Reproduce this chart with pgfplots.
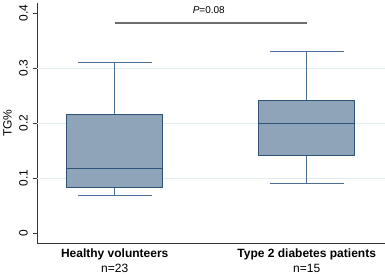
\documentclass[border=0pt]{standalone}
\usepackage{pgfplots}
\pgfplotsset{compat=1.18}
\usepackage{fontspec}
\setmainfont{Liberation Sans}
\definecolor{boxfill}{HTML}{8FA4B9}
\definecolor{boxedge}{HTML}{2E5378}
\definecolor{whisk}{HTML}{4A6E96}
\definecolor{gridc}{HTML}{E2EDF1}
\definecolor{brack}{HTML}{6E6E6E}
\begin{document}
\begin{tikzpicture}
\useasboundingbox (-37bp,-33bp) rectangle (348bp,243bp);
\begin{axis}[
  at={(0,0)}, anchor=south west,
  scale only axis, width=348bp, height=240bp,
  xmin=0.595, xmax=2.408, ymin=-0.0182, ymax=0.418,
  axis x line=bottom, axis y line=left,
  axis line style={-, draw=black!80, line width=0.8pt},
  xtick={1,2},
  xticklabels={{\textbf{Healthy volunteers}\\n=23},{\textbf{Type 2 diabetes patients}\\n=15}},
  xticklabel style={align=center, font=\fontsize{12bp}{15bp}\selectfont, yshift=2bp},
  x tick style={draw=none},
  ytick={0,0.1,0.2,0.3,0.4},
  yticklabels={\rotatebox{90}{0},\rotatebox{90}{0.1},\rotatebox{90}{0.2},\rotatebox{90}{0.3},\rotatebox{90}{0.4}},
  yticklabel style={anchor=east, inner sep=0pt, xshift=-5bp, font=\fontsize{12bp}{14bp}\selectfont},
  y tick style={draw=black!80, line width=0.7pt},
  tick align=outside, major tick length=4bp,
  ylabel={\rotatebox{90}{TG\%}},
  ylabel style={rotate=-90, font=\fontsize{12bp}{14bp}\selectfont, at={(axis description cs:-0.0848,0.5)}, anchor=center},
  clip=false,
]
\addplot[gridc, line width=0.7pt, forget plot] coordinates {(0.595,0.1) (2.408,0.1)};
\addplot[gridc, line width=0.7pt, forget plot] coordinates {(0.595,0.2) (2.408,0.2)};
\addplot[gridc, line width=0.7pt, forget plot] coordinates {(0.595,0.3) (2.408,0.3)};
% box 1
\addplot[whisk, line width=1pt] coordinates {(1,0.2145) (1,0.3104)};
\addplot[whisk, line width=1pt] coordinates {(1,0.0818) (1,0.0673)};
\addplot[whisk, line width=1pt] coordinates {(0.8075,0.3104) (1.1925,0.3104)};
\addplot[whisk, line width=1pt] coordinates {(0.8075,0.0673) (1.1925,0.0673)};
\addplot[draw=boxedge, fill=boxfill, line width=1pt] coordinates {(0.75,0.0818) (1.25,0.0818) (1.25,0.2145) (0.75,0.2145)} -- cycle;
\addplot[boxedge, line width=1pt] coordinates {(0.75,0.117) (1.25,0.117)};
% box 2
\addplot[whisk, line width=1pt] coordinates {(2,0.240) (2,0.3297)};
\addplot[whisk, line width=1pt] coordinates {(2,0.140) (2,0.0897)};
\addplot[whisk, line width=1pt] coordinates {(1.8075,0.3297) (2.1925,0.3297)};
\addplot[whisk, line width=1pt] coordinates {(1.8075,0.0897) (2.1925,0.0897)};
\addplot[draw=boxedge, fill=boxfill, line width=1pt] coordinates {(1.75,0.140) (2.25,0.140) (2.25,0.240) (1.75,0.240)} -- cycle;
\addplot[boxedge, line width=1pt] coordinates {(1.75,0.1994) (2.25,0.1994)};
% bracket
\addplot[brack, line width=1.6pt, forget plot] coordinates {(1,0.382) (2,0.382)};
\node[font=\fontsize{10bp}{12bp}\selectfont] at (axis cs:1.49,0.406) {\textit{P}=0.08};
\end{axis}
\end{tikzpicture}
\end{document}
